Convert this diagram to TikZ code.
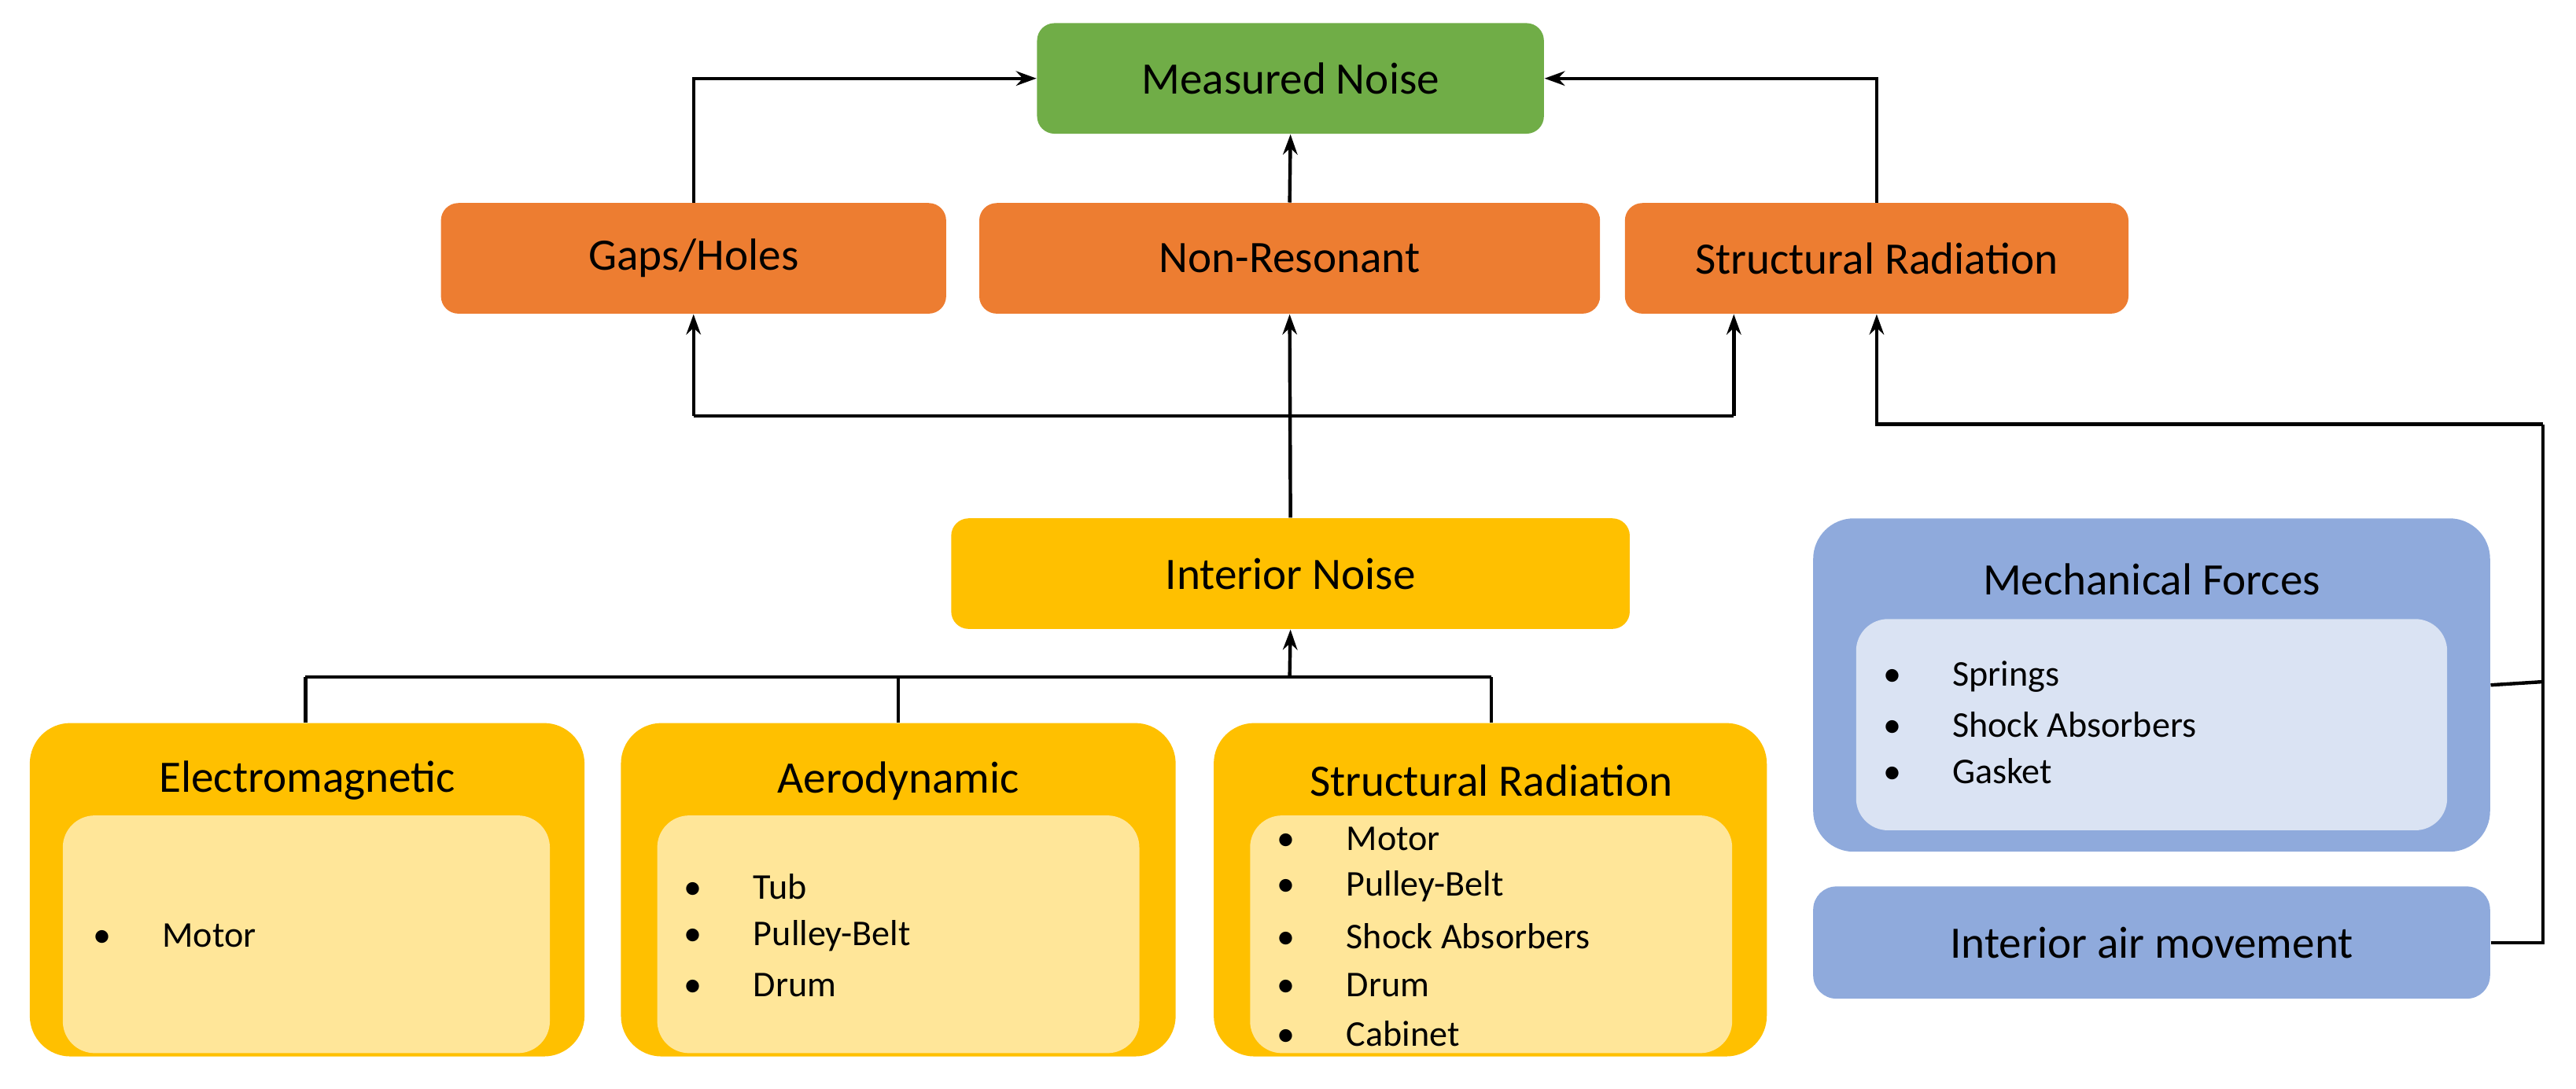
\documentclass[tikz,border=0pt]{standalone}
\usepackage{fontspec}
\setmainfont{Carlito}
\usetikzlibrary{arrows.meta}
\definecolor{cgreen}{HTML}{70AD47}
\definecolor{corange}{HTML}{ED7D31}
\definecolor{cyellow}{HTML}{FFC000}
\definecolor{clyellow}{HTML}{FFE699}
\definecolor{cblue}{HTML}{8FAADC}
\definecolor{clblue}{HTML}{DAE3F3}
\begin{document}
\begin{tikzpicture}[x=0.02cm,y=-0.02cm,
  box/.style={rectangle,rounded corners=6pt,draw=none,inner sep=0,font=\fontsize{15.5}{18}\selectfont,minimum height=1.34cm},
  big/.style={rectangle,rounded corners=14pt,draw=none,inner sep=0,minimum height=4.04cm},
  inner/.style={rectangle,rounded corners=11pt,draw=none,inner sep=0},
  ttl/.style={font=\fontsize{15.5}{18}\selectfont,inner sep=0},
  itm/.style={anchor=west,inner sep=0,font=\fontsize{12.5}{15}\selectfont},
  ln/.style={line width=1.2pt},
  ar/.style={ln,-{Stealth[length=7pt,width=5pt]}}]
\useasboundingbox (0,0) rectangle (1560,659.7);
\node[box,fill=cgreen,minimum width=6.14cm] (mn) at (781.5,47.5) {Measured Noise};
\node[box,fill=corange,minimum width=6.12cm] (gh) at (420,156.5) {Gaps/Holes};
\node[box,fill=corange,minimum width=7.52cm] (nr) at (781,156.5) {Non-Resonant};
\node[box,fill=corange,minimum width=6.1cm] (sr) at (1136.5,156.5) {Structural Radiation};
\node[box,fill=cyellow,minimum width=8.22cm] (in) at (781.5,347.5) {Interior Noise};
% bottom boxes
\node[big,fill=cyellow,minimum width=6.72cm] (em) at (186,539) {};
\node[inner,fill=clyellow,minimum width=5.9cm,minimum height=2.88cm] (emi) at (185.5,566) {};
\node[ttl] (emt) at (186,473) {Electromagnetic};
\node[itm] (em1) at (56,567) {\makebox[0.84cm][l]{\textbullet}Motor};
\node[big,fill=cyellow,minimum width=6.72cm] (ae) at (544,539) {};
\node[inner,fill=clyellow,minimum width=5.84cm,minimum height=2.88cm] (aei) at (544,566) {};
\node[ttl] (aet) at (544,473) {Aerodynamic};
\node[itm] (ae1) at (414,537) {\makebox[0.84cm][l]{\textbullet}Tub};
\node[itm] (ae2) at (414,567) {\makebox[0.84cm][l]{\textbullet}Pulley-Belt};
\node[itm] (ae3) at (414,597) {\makebox[0.84cm][l]{\textbullet}Drum};
\node[big,fill=cyellow,minimum width=6.7cm] (st) at (902.5,539) {};
\node[inner,fill=clyellow,minimum width=5.84cm,minimum height=2.88cm] (sti) at (903,566) {};
\node[ttl] (stt) at (903,473) {Structural Radiation};
\node[itm] (st1) at (773,508) {\makebox[0.84cm][l]{\textbullet}Motor};
\node[itm] (st2) at (773,537) {\makebox[0.84cm][l]{\textbullet}Pulley-Belt};
\node[itm] (st3) at (773,567) {\makebox[0.84cm][l]{\textbullet}Shock Absorbers};
\node[itm] (st4) at (773,597) {\makebox[0.84cm][l]{\textbullet}Drum};
\node[itm] (st5) at (773,626) {\makebox[0.84cm][l]{\textbullet}Cabinet};
% mechanical
\node[big,fill=cblue,minimum width=8.2cm] (mf) at (1303,415) {};
\node[inner,fill=clblue,minimum width=7.16cm,minimum height=2.56cm] (mfi) at (1303,439) {};
\node[ttl] (mft) at (1303,351) {Mechanical Forces};
\node[itm] (mf1) at (1140,410) {\makebox[0.84cm][l]{\textbullet}Springs};
\node[itm] (mf2) at (1140,439) {\makebox[0.84cm][l]{\textbullet}Shock Absorbers};
\node[itm] (mf3) at (1140,467) {\makebox[0.84cm][l]{\textbullet}Gasket};
\node[box,fill=cblue,rounded corners=8pt,minimum width=8.2cm,minimum height=1.36cm] (air) at (1303,571) {Interior air movement};
% connectors top
\draw[ar] (gh.north) |- (mn.west);
\draw[ar] (sr.north) |- (mn.east);
\draw[ar] (nr.north) -- (mn.south);
\draw[ar] (in.north) -- (nr.south);
\coordinate (bl) at (420,252);
\coordinate (br) at (1050,252);
\draw[ln] (bl) -- (br);
\draw[ar] (bl) -- (gh.south);
\draw[ar] (br) -- (br |- sr.south);
% right feed
\coordinate (rv) at (1540,257);
\draw[ln] (mf.east) -- (1540,413);
\draw[ln] (air.east) -- (1540,571) -- (rv);
\draw[ar] (rv) -| (sr.south);
% bottom bus
\coordinate (b1) at (185,410);
\coordinate (b3) at (903,410);
\draw[ln] (b1) -- (b3);
\draw[ar] (781,410) -- (in.south);
\draw[ln] (b1) -- (em.north -| b1);
\draw[ln] (544,410) -- (ae.north);
\draw[ln] (b3) -- (st.north -| b3);
\end{tikzpicture}
\end{document}
